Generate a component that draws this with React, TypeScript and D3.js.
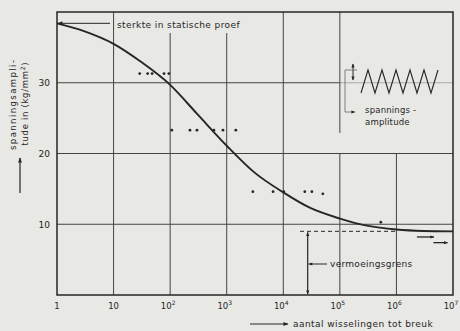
import React from "react";
import * as d3 from "d3";

const W = 460;
const H = 331;

// curve: number of cycles -> stress amplitude (kg/mm2)
const curveN = [1, 3, 10, 30, 100, 300, 1000, 3000, 1e4, 3e4, 1e5, 3e5, 1e6, 3e6, 1e7];
const curveS = [38.4, 37.3, 35.5, 33.0, 29.7, 25.6, 21.1, 17.4, 14.5, 12.3, 10.8, 9.8, 9.25, 9.05, 9.0];

// test points
const pointN = [29, 40, 48, 78, 95, 107, 224, 298, 594, 858, 1450, 2900, 6600, 10200, 24000, 32000, 50000, 530000];
const pointS = [31.3, 31.3, 31.3, 31.3, 31.3, 23.3, 23.3, 23.3, 23.3, 23.3, 23.3, 14.6, 14.6, 14.6, 14.6, 14.6, 14.3, 10.3];

// run-outs (no fracture)
const runoutN0 = [2.3e6, 4.5e6];
const runoutN1 = [4.6e6, 8.0e6];
const runoutS = [8.2, 7.4];

const xTicks = [1, 10, 1e2, 1e3, 1e4, 1e5, 1e6, 1e7];
const xTickExp = ["", "", "2", "3", "4", "5", "6", "7"];
const yTicks = [10, 20, 30];

const fatigueLimit = 9.0;
const enduranceMarkN = 27000;
const staticStrength = 38.4;

const ink = "#262626";
const grid = "#444";
const font = "DejaVu Sans, Verdana, sans-serif";

export default function App() {
  const x = d3.scaleLog().domain([1, 1e7]).range([57, 453]);
  const y = d3.scaleLinear().domain([0, 40]).range([295, 12]);

  const line = d3
    .line<number>()
    .x((_, i) => x(curveN[i]))
    .y((d) => y(d))
    .curve(d3.curveMonotoneX);

  const x0 = x(1), x1 = x(1e7), y0 = y(0), y1 = y(40);

  // grid segments (vertical), some interrupted by text / inset
  const vTop: Record<number, number> = { 1: y1, 2: 33, 3: 33, 4: y1, 5: y(20), 6: y(20) };

  // zigzag inset
  const zz: [number, number][] = [];
  const zx0 = 361, zTop = 70, zBot = 93;
  zz.push([zx0, zBot]);
  for (let k = 0; k < 5; k++) {
    zz.push([zx0 + 7 + 14 * k, zTop]);
    zz.push([zx0 + 14 + 14 * k, zBot]);
  }
  zz.push([438, zTop]);

  const limY = y(fatigueLimit);
  const em = x(enduranceMarkN);

  return (
    <svg
      width={W}
      height={H}
      style={{ position: "absolute", left: 0, top: 0, background: "#e8e8e5" }}
      fontFamily={font}
    >
      <defs>
        <marker id="ah" viewBox="0 0 10 10" refX="9" refY="5" markerWidth="8" markerHeight="5" orient="auto-start-reverse" markerUnits="userSpaceOnUse">
          <path d="M0,1 L10,5 L0,9 z" fill={ink} />
        </marker>
        <marker id="ahs" viewBox="0 0 10 10" refX="9" refY="5" markerWidth="6" markerHeight="4" orient="auto-start-reverse" markerUnits="userSpaceOnUse">
          <path d="M0,1 L10,5 L0,9 z" fill={ink} />
        </marker>
      </defs>
      <rect width={W} height={H} fill="#e8e8e5" />

      {/* horizontal grid */}
      {yTicks.map((t) => (
        <line
          key={"h" + t}
          x1={x0}
          x2={t === 30 ? x(1e5) : x1}
          y1={y(t)}
          y2={y(t)}
          stroke={grid}
          strokeWidth={1}
        />
      ))}
      {/* inset mean line */}
      <line x1={x(1e5)} x2={x1} y1={y(30)} y2={y(30)} stroke="#9a9a9a" strokeWidth={0.8} />

      {/* vertical grid */}
      {xTicks.slice(1, 7).map((t, i) => (
        <line
          key={"v" + t}
          x1={x(t)}
          x2={x(t)}
          y1={vTop[i + 1]}
          y2={y0}
          stroke={grid}
          strokeWidth={1}
        />
      ))}
      {/* upper part of the 10^5 line, beside the inset */}
      <line x1={x(1e5)} x2={x(1e5)} y1={y1} y2={133} stroke={grid} strokeWidth={1} />

      {/* frame */}
      <rect x={x0} y={y1} width={x1 - x0} height={y0 - y1} fill="none" stroke={ink} strokeWidth={1.5} />

      {/* y tick labels */}
      {yTicks.map((t) => (
        <text key={"yl" + t} x={50} y={y(t) + 3.5} fontSize={9} textAnchor="end" fill={ink}>
          {t}
        </text>
      ))}
      {/* x tick labels */}
      {xTicks.map((t, i) => (
        <text key={"xl" + t} x={x(t) + (xTickExp[i] ? -2 : 0)} y={309} fontSize={8.5} textAnchor="middle" fill={ink}>
          {t === 1 ? "1" : "10"}
          {xTickExp[i] && (
            <tspan fontSize={6} dy={-4}>
              {xTickExp[i]}
            </tspan>
          )}
        </text>
      ))}

      {/* curve */}
      <path d={line(curveS) || ""} fill="none" stroke={ink} strokeWidth={1.9} />

      {/* fatigue limit dashed line */}
      <line x1={300} x2={x(1e6)} y1={limY} y2={limY} stroke={ink} strokeWidth={1} strokeDasharray="4,3" />
      <line x1={em} x2={em} y1={limY + 1} y2={y0 - 1} stroke={ink} strokeWidth={1.2} markerStart="url(#ahs)" markerEnd="url(#ahs)" />
      <line x1={327} x2={em + 1} y1={264} y2={264} stroke={ink} strokeWidth={1} markerEnd="url(#ahs)" />
      <text x={330} y={267} fontSize={9} fill={ink} letterSpacing={0.3}>
        vermoeingsgrens
      </text>

      {/* test points */}
      {pointN.map((n, i) => (
        <circle key={"p" + i} cx={x(n)} cy={y(pointS[i])} r={1.4} fill={ink} />
      ))}
      {/* run-outs */}
      {runoutN0.map((n, i) => (
        <line
          key={"r" + i}
          x1={x(n)}
          x2={x(runoutN1[i])}
          y1={y(runoutS[i])}
          y2={y(runoutS[i])}
          stroke={ink}
          strokeWidth={1.3}
          markerEnd="url(#ahs)"
        />
      ))}

      {/* static strength label */}
      <rect x={115} y={16} width={137} height={16} fill="#e8e8e5" />
      <line x1={110} x2={x0 + 1} y1={y(staticStrength)} y2={y(staticStrength)} stroke={ink} strokeWidth={1} markerEnd="url(#ah)" />
      <text x={117} y={27.5} fontSize={9} fill={ink} letterSpacing={0.4}>
        sterkte in statische proef
      </text>

      {/* inset zigzag */}
      <polyline points={zz.map((p) => p.join(",")).join(" ")} fill="none" stroke={ink} strokeWidth={1.1} />
      <line x1={353} x2={353} y1={64} y2={80} stroke={ink} strokeWidth={1} markerStart="url(#ahs)" markerEnd="url(#ahs)" />
      <polyline points="357,70 345,70 345,112 355,112" fill="none" stroke="#666" strokeWidth={0.8} markerEnd="url(#ahs)" />
      <text x={365} y={113} fontSize={8.5} fill={ink} letterSpacing={0.2}>
        spannings -
      </text>
      <text x={365} y={125} fontSize={8.5} fill={ink} letterSpacing={0.2}>
        amplitude
      </text>

      {/* y axis title */}
      <text transform="translate(16,105) rotate(-90)" fontSize={8.5} textAnchor="middle" fill={ink} textLength={90} lengthAdjust="spacing">
        spanningsampli-
      </text>
      <text transform="translate(28,104) rotate(-90)" fontSize={8.5} textAnchor="middle" fill={ink} textLength={83} lengthAdjust="spacing">
        tude in (kg/mm
        <tspan fontSize={6} dy={-3}>2</tspan>
        <tspan dy={3}>)</tspan>
      </text>
      <line x1={20} x2={20} y1={193} y2={158} stroke={ink} strokeWidth={1.2} markerEnd="url(#ah)" />

      {/* x axis title */}
      <line x1={250} x2={288} y1={324} y2={324} stroke={ink} strokeWidth={1} markerEnd="url(#ah)" />
      <text x={293} y={327} fontSize={9} fill={ink} letterSpacing={0.45}>
        aantal wisselingen tot breuk
      </text>
    </svg>
  );
}
